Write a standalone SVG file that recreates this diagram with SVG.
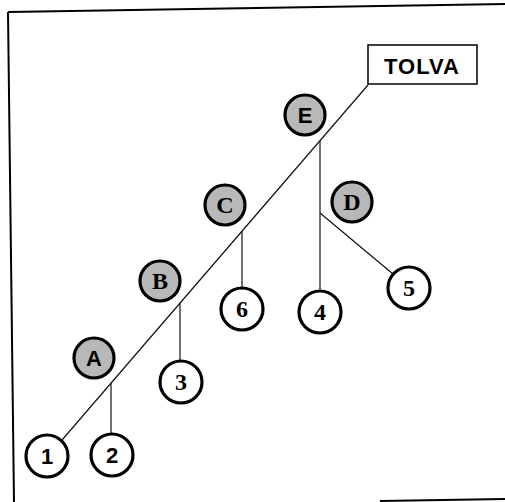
<svg xmlns="http://www.w3.org/2000/svg" width="505" height="502" viewBox="0 0 505 502">
<style>
.frame{fill:none;stroke:#000;stroke-width:2}
.ln{fill:none;stroke:#111;stroke-width:1.2}
.cg{fill:#b8b8b8;stroke:#000;stroke-width:3.2}
.cw{fill:#fff;stroke:#000;stroke-width:3.2}
.t{font-family:"Liberation Sans",Arial,sans-serif;font-weight:bold;font-size:22px;text-anchor:middle;dominant-baseline:central;fill:#000}
.ts{font-family:"Liberation Serif","Times New Roman",serif;font-weight:bold;font-size:24px;text-anchor:middle;dominant-baseline:central;fill:#000}
.box{fill:#fff;stroke:#000;stroke-width:1.5}
</style>
<rect width="505" height="502" fill="#fff"/>
<path class="frame" d="M8,12 L505,4 M8,12 L14,502 M380,501 L505,499"/>
<g id="connectors">
<line class="ln" x1="368" y1="85" x2="62" y2="440"/>
<line class="ln" x1="320" y1="141" x2="320" y2="291"/>
<line class="ln" x1="320" y1="213" x2="393" y2="274"/>
<line class="ln" x1="242" y1="231" x2="242" y2="288"/>
<line class="ln" x1="180" y1="303" x2="180" y2="361"/>
<line class="ln" x1="111" y1="383" x2="111" y2="434"/>
</g>
<g id="tolva"><rect class="box" x="368" y="45" width="109" height="39"/><text class="t" x="422" y="66" font-size="21" letter-spacing="1">TOLVA</text></g>
<g id="E"><circle class="cg" cx="305" cy="115" r="20"/><text class="t" x="305" y="115">E</text></g>
<g id="D"><circle class="cg" cx="352" cy="202" r="20"/><text class="ts" x="352" y="202">D</text></g>
<g id="C"><circle class="cg" cx="225" cy="205" r="20"/><text class="ts" x="225" y="205">C</text></g>
<g id="B"><circle class="cg" cx="160" cy="281" r="20"/><text class="ts" x="160" y="281">B</text></g>
<g id="A"><circle class="cg" cx="94" cy="358" r="20"/><text class="t" x="94" y="358">A</text></g>
<g id="n1"><circle class="cw" cx="47" cy="456" r="21"/><text class="t" x="47" y="456">1</text></g>
<g id="n2"><circle class="cw" cx="112" cy="455" r="21"/><text class="t" x="112" y="455">2</text></g>
<g id="n3"><circle class="cw" cx="181" cy="382" r="21"/><text class="ts" x="181" y="382">3</text></g>
<g id="n6"><circle class="cw" cx="242" cy="309" r="21"/><text class="ts" x="242" y="309">6</text></g>
<g id="n4"><circle class="cw" cx="320" cy="312" r="21"/><text class="ts" x="320" y="312">4</text></g>
<g id="n5"><circle class="cw" cx="409" cy="288" r="21"/><text class="ts" x="409" y="288">5</text></g>
</svg>
